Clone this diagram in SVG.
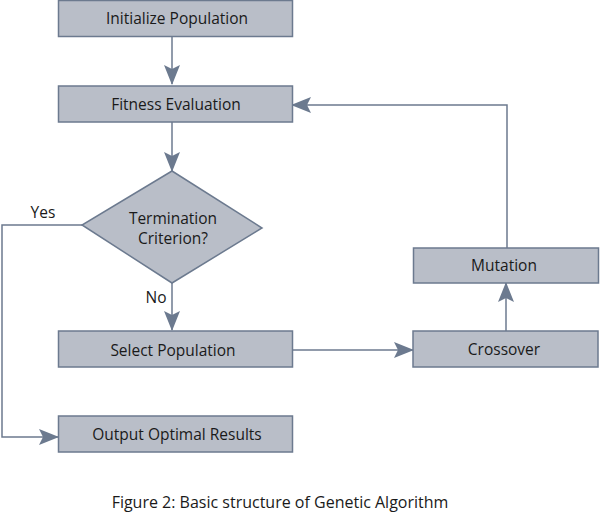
<svg xmlns="http://www.w3.org/2000/svg" width="600" height="513" viewBox="0 0 600 513">
<style>
.box{fill:#b9bec8;stroke:#6c7a8f;stroke-width:1.5}
.lbl{font-family:"Open Sans","Noto Sans",sans-serif;font-size:15.5px;fill:#1a1a1a;text-anchor:middle;dominant-baseline:central}
.edge{fill:none;stroke:#6c7a8f;stroke-width:1.5}
.cap{font-family:"Open Sans","Noto Sans",sans-serif;font-size:16px;fill:#1a1a1a;text-anchor:middle}
</style>
<defs>
<marker id="ah" viewBox="0 0 20 16" refX="19" refY="8" markerWidth="20" markerHeight="16" markerUnits="userSpaceOnUse" orient="auto">
<path d="M0,0 L20,8 L0,16 L4,8 Z" fill="#6c7a8f"/>
</marker>
</defs>
<rect width="600" height="513" fill="#ffffff"/>
<g id="connectors">
<path class="edge" d="M172,36 V84" marker-end="url(#ah)"/>
<path class="edge" d="M172,122 V171" marker-end="url(#ah)"/>
<path class="edge" d="M172,283 V330" marker-end="url(#ah)"/>
<path class="edge" d="M82,225 H2 V437 H58" marker-end="url(#ah)"/>
<path class="edge" d="M292,350 H413" marker-end="url(#ah)"/>
<path class="edge" d="M506,331 V283" marker-end="url(#ah)"/>
<path class="edge" d="M507,248 V105 H292" marker-end="url(#ah)"/>
<text class="lbl" x="43" y="212">Yes</text>
<text class="lbl" x="156" y="297">No</text>
</g>
<g id="init">
<rect class="box" x="58.5" y="0.5" width="234" height="36"/>
<text class="lbl" x="177" y="18">Initialize Population</text>
</g>
<g id="fitness">
<rect class="box" x="58.5" y="86" width="234" height="36"/>
<text class="lbl" x="176" y="104">Fitness Evaluation</text>
</g>
<g id="termination">
<polygon class="box" points="172,171 262,228 172,283 82,225"/>
<text class="lbl" x="173" y="218">Termination</text>
<text class="lbl" x="173" y="238">Criterion?</text>
</g>
<g id="select">
<rect class="box" x="58.5" y="331" width="234" height="36"/>
<text class="lbl" x="173" y="350">Select Population</text>
</g>
<g id="output">
<rect class="box" x="58.5" y="416" width="234" height="36"/>
<text class="lbl" x="177" y="434">Output Optimal Results</text>
</g>
<g id="crossover">
<rect class="box" x="413" y="331" width="185" height="36"/>
<text class="lbl" x="504" y="349">Crossover</text>
</g>
<g id="mutation">
<rect class="box" x="413.5" y="248" width="185" height="35"/>
<text class="lbl" x="504" y="265">Mutation</text>
</g>
<text class="cap" x="280" y="508">Figure 2: Basic structure of Genetic Algorithm</text>
</svg>
